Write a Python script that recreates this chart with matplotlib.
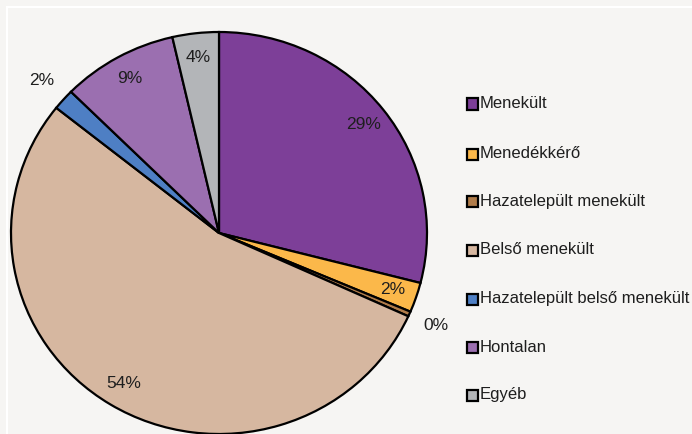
import matplotlib
matplotlib.use("Agg")
import matplotlib.pyplot as plt
import numpy as np
from matplotlib.patches import Rectangle

categories = ["Menekült", "Menedékkérő", "Hazatelepült menekült", "Belső menekült",
              "Hazatelepült belső menekült", "Hontalan", "Egyéb"]
values = [29.0, 2.4, 0.4, 53.9, 1.7, 9.0, 3.6]
colors = ["#7d3f98", "#fbb84a", "#b07c4a", "#d6b7a0", "#4e7fc4", "#9b6fb0", "#b3b5b8"]
outside = [False, False, True, False, True, False, False]

plt.rcParams['font.family'] = ['Liberation Sans', 'DejaVu Sans']

W, H = 692, 434
fig = plt.figure(figsize=(W / 100, H / 100), dpi=100)
fig.patch.set_facecolor("#f6f5f3")

# white frame line
fig.add_artist(Rectangle((7 / W, -0.1), 1.2, (H - 7) / H + 0.1, transform=fig.transFigure,
                         fill=False, edgecolor="white", linewidth=1.5))

cx, cy, rx, ry = 219, 233, 208, 201
ax = fig.add_axes([(cx - rx) / W, (H - cy - ry) / H, 2 * rx / W, 2 * ry / H])
ax.axis("off")

wedges, _ = ax.pie(values, colors=colors, startangle=90, counterclock=False, radius=1,
                   wedgeprops=dict(edgecolor="black", linewidth=1.6), frame=False)
ax.set_xlim(-1, 1)
ax.set_ylim(-1, 1)
ax.set_aspect("auto")

for w, v, out in zip(wedges, values, outside):
    ang = np.deg2rad((w.theta1 + w.theta2) / 2)
    d = 1.14 if out else 0.88
    ax.text(d * np.cos(ang), d * np.sin(ang), f"{round(v):d}%", ha="center", va="center",
            fontsize=12.5, color="#1e1e1e", clip_on=False)

# legend
ys = [104, 154, 201, 250, 299, 347, 395]
for y, c, lab in zip(ys, colors, categories):
    fig.add_artist(Rectangle(((472 - 5.5) / W, (H - y - 5.5) / H), 11 / W, 11 / H,
                             transform=fig.transFigure, facecolor=c, edgecolor="black",
                             linewidth=1.6))
    fig.text(480 / W, (H - y) / H, lab, ha="left", va="center", fontsize=12, color="#1e1e1e")

fig.savefig("out.png", dpi=100, facecolor=fig.get_facecolor())
